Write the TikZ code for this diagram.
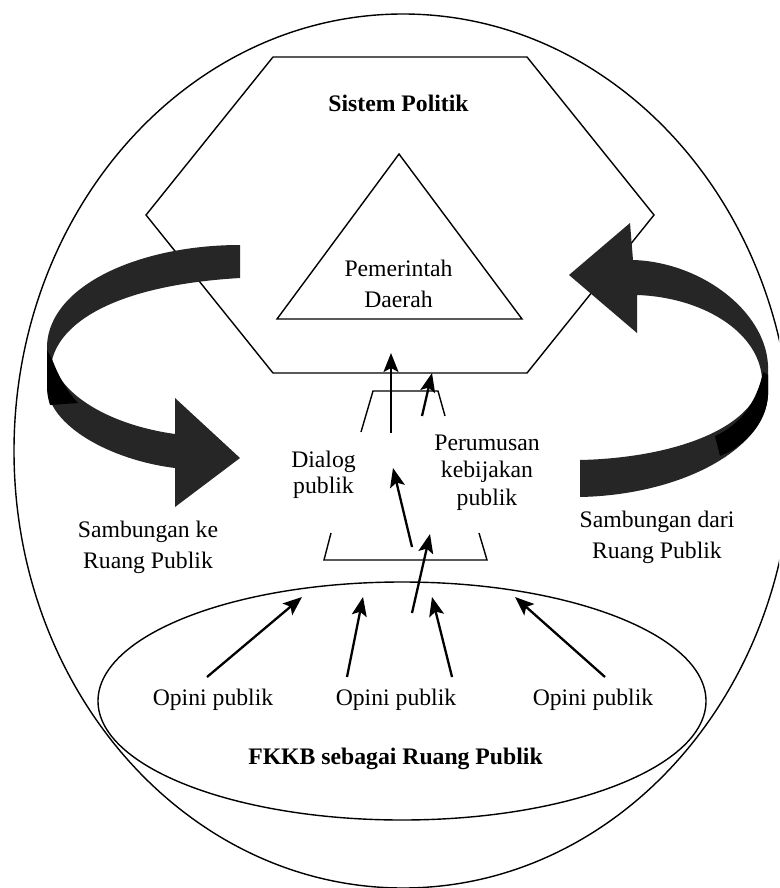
\documentclass[tikz,border=0pt]{standalone}
\usepackage{fontspec}
\setmainfont{Liberation Serif}
\usetikzlibrary{arrows.meta}
\definecolor{ribbon}{RGB}{38,38,38}
\begin{document}
\begin{tikzpicture}[x=1pt,y=-1pt,
  outline/.style={line width=1.4pt,line join=miter},
  flow/.style={line width=2.3pt,-{Stealth[length=19pt,width=15pt,inset=4pt]}},
  txt/.style={inner sep=0pt,align=center,font=\fontsize{23.7}{28}\selectfont},
  btxt/.style={inner sep=0pt,align=center,font=\fontsize{23.7}{28}\selectfont\bfseries}]
\clip (0,0) rectangle (779,888);
\fill[white] (0,0) rectangle (779,888);

% outer space and inner shapes
\draw[outline] (403,451) ellipse [x radius=389pt, y radius=437pt];
\draw[outline] (273,57) -- (527,57) -- (654,215) -- (527,373) -- (273,373) -- (146,215) -- cycle;
\draw[outline] (399,154) -- (522,319) -- (277,319) -- cycle;
\draw[outline] (402,701) ellipse [x radius=304pt, y radius=119pt];

% left ribbon arrow
\fill[ribbon] (240,245) .. controls (140,245) and (50,285) .. (47,345)
  -- (47,385) .. controls (47,425) and (110,460) .. (175,468)
  -- (175,507) -- (240,458) -- (175,398) -- (175,434)
  .. controls (110,425) and (60,395) .. (52,360)
  .. controls (62,320) and (120,285) .. (240,278) -- cycle;
\fill[black] (47,350) -- (52,359) .. controls (58,375) and (66,390) .. (78,403)
  -- (50,405) .. controls (47,395) and (47,390) .. (47,385) -- cycle;

% right ribbon arrow
\fill[ribbon] (569,275) -- (630,223) -- (633,260)
  .. controls (700,262) and (765,310) .. (768,365)
  -- (768,395) .. controls (765,450) and (680,495) .. (580,497)
  -- (580,460) .. controls (670,458) and (755,430) .. (762,378)
  .. controls (758,330) and (700,297) .. (637,295)
  -- (637,333) -- cycle;
\fill[black] (768,375) -- (768,395) .. controls (767,420) and (748,445) .. (720,456)
  -- (715,436) .. controls (740,425) and (757,402) .. (763,372) -- cycle;

% brackets
\coordinate (ut1) at (361,432); \coordinate (ut2) at (373,391);
\coordinate (ut3) at (438,391); \coordinate (ut4) at (445,416);
\draw[outline] (ut1) -- (ut2) -- (ut3) -- (ut4);
\coordinate (lt1) at (331,533); \coordinate (lt2) at (324,560);
\coordinate (lt3) at (487,560); \coordinate (lt4) at (479,533);
\draw[outline] (lt1) -- (lt2) -- (lt3) -- (lt4);

% texts
\node[btxt] (sistem) at (398.5,103) {Sistem Politik};
\node[txt,font=\fontsize{23.7}{31}\selectfont] (pemda) at (398.5,283.5) {Pemerintah\\Daerah};
\node[txt,font=\fontsize{23.7}{26}\selectfont] (dialog) at (323.5,475) {Dialog\\publik};
\node[txt,font=\fontsize{23.7}{27.5}\selectfont] (rumus) at (487,472.5) {Perumusan\\kebijakan\\publik};
\node[txt,font=\fontsize{23.7}{31}\selectfont] (ske) at (148,547.5) {Sambungan ke\\Ruang Publik};
\node[txt,font=\fontsize{23.7}{31}\selectfont] (sdari) at (657,537.5) {Sambungan dari\\Ruang Publik};
\node[txt] (op1) at (213,700) {Opini publik};
\node[txt] (op2) at (396,700) {Opini publik};
\node[txt] (op3) at (593,700) {Opini publik};
\node[btxt] (fkkb) at (395.5,759) {FKKB sebagai Ruang Publik};

% arrows
\coordinate (a1s) at (207,677); \coordinate (a1e) at (302,597);
\coordinate (a2s) at (347,677); \coordinate (a2e) at (363,597);
\coordinate (a3s) at (452,677); \coordinate (a3e) at (432,597);
\coordinate (a4s) at (605,677); \coordinate (a4e) at (515,597);
\coordinate (lgs) at (412,613); \coordinate (lge) at (430,534);
\coordinate (mds) at (412,547); \coordinate (mde) at (393,468);
\coordinate (vts) at (391,433); \coordinate (vte) at (391,353);
\coordinate (sms) at (422,416); \coordinate (sme) at (432,373);
\draw[flow] (a1s) -- (a1e);
\draw[flow] (a2s) -- (a2e);
\draw[flow] (a3s) -- (a3e);
\draw[flow] (a4s) -- (a4e);
\draw[flow] (lgs) -- (lge);
\draw[flow] (mds) -- (mde);
\draw[flow] (vts) -- (vte);
\draw[flow] (sms) -- (sme);
\end{tikzpicture}
\end{document}
